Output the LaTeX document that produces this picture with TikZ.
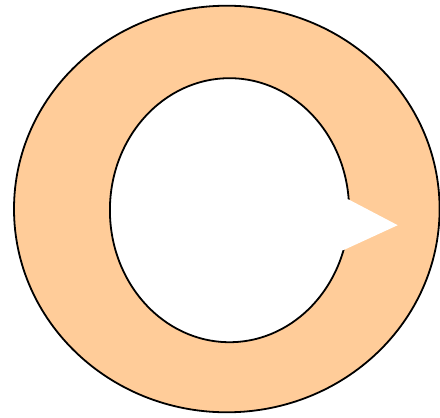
\documentclass[tikz,border=0pt]{standalone}
\definecolor{peach}{HTML}{FFCC99}
\begin{document}
\begin{tikzpicture}[x=1pt,y=-1pt,line width=1.8pt]
\useasboundingbox (0,0) rectangle (440,418);
% outer ring
\filldraw[fill=peach,draw=black] (226.8,209) ellipse [x radius=212.8, y radius=203.3];
% inner hole
\filldraw[fill=white,draw=black] (229.5,210.2) ellipse [x radius=119.6, y radius=132];
% notch
\fill[white] (336,199.3) -- (348.3,199.3) -- (397.7,225.2) -- (343.3,250.2) -- (336,250.2) -- cycle;
\end{tikzpicture}
\end{document}
